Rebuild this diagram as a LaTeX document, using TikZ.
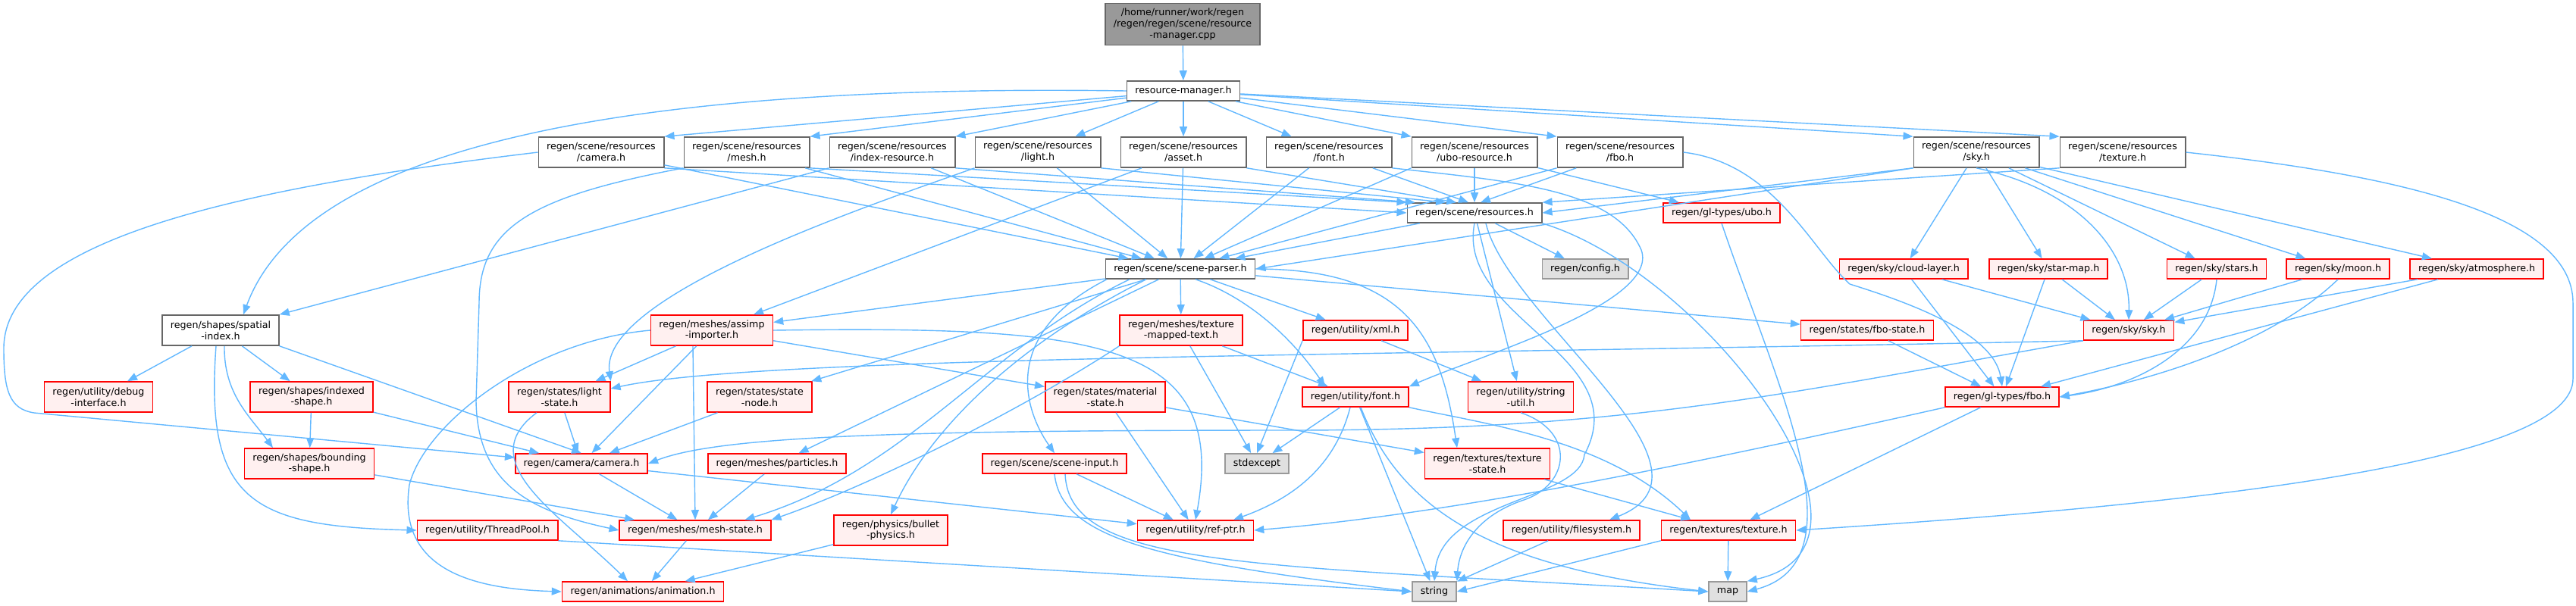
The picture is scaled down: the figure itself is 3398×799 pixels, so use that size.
\documentclass[tikz,border=0pt]{standalone}
\usepackage{fontspec}
\newfontfamily\dotfont{DejaVu Sans}
\usetikzlibrary{arrows.meta, positioning, calc}
\definecolor{edgeblue}{HTML}{63B8FF}
\definecolor{nodeline}{HTML}{666666}
\definecolor{rootfill}{HTML}{999999}
\definecolor{sysfill}{HTML}{E0E0E0}
\definecolor{sysline}{HTML}{999999}
\definecolor{truncfill}{HTML}{FFF0F0}
\tikzset{
    file/.style={rectangle, draw=nodeline, fill=white, line width=0.45pt, align=center, inner xsep=3.1pt, inner ysep=0.5pt, minimum height=0.26cm, font=\dotfont\fontsize{3.6}{4.25}\selectfont},
    twoline/.style={minimum height=0.40cm},
    root/.style={file, fill=rootfill, minimum height=0.55cm},
    trunc/.style={file, draw=red, fill=truncfill},
    sys/.style={file, draw=sysline, fill=sysfill},
    dep/.style={draw=edgeblue, line width=0.4pt, -{Triangle[length=1.3mm, width=1mm]}}
}
\begin{document}
\begin{tikzpicture}[x=0.01cm, y=-0.01cm]
    \useasboundingbox (0,0) rectangle (3398,799);
    % files
    \node[root] (cpp) at (1560,32) {/home/runner/work/regen\\/regen/regen/scene/resource\\-manager.cpp};
    \node[file] (rm) at (1561,120) {resource-manager.h};
    \node[file, twoline] (rcam) at (793,201) {regen/scene/resources\\/camera.h};
    \node[file, twoline] (rmesh) at (985,201) {regen/scene/resources\\/mesh.h};
    \node[file, twoline] (ridx) at (1177,201) {regen/scene/resources\\/index-resource.h};
    \node[file, twoline] (rlight) at (1369,201) {regen/scene/resources\\/light.h};
    \node[file, twoline] (rasset) at (1561,201) {regen/scene/resources\\/asset.h};
    \node[file, twoline] (rfont) at (1753,201) {regen/scene/resources\\/font.h};
    \node[file, twoline] (rubo) at (1945,201) {regen/scene/resources\\/ubo-resource.h};
    \node[file, twoline] (rfbo) at (2137,201) {regen/scene/resources\\/fbo.h};
    \node[file, twoline] (rsky) at (2607,201) {regen/scene/resources\\/sky.h};
    \node[file, twoline] (rtex) at (2800,201) {regen/scene/resources\\/texture.h};
    \node[file] (res) at (1945,281) {regen/scene/resources.h};
    \node[trunc] (ubo) at (2271,281) {regen/gl-types/ubo.h};
    \node[file] (parser) at (1557,355) {regen/scene/scene-parser.h};
    \node[sys] (config) at (2091,355) {regen/config.h};
    \node[trunc] (cloud) at (2511,355) {regen/sky/cloud-layer.h};
    \node[trunc] (starmap) at (2702,355) {regen/sky/star-map.h};
    \node[trunc] (stars) at (2924,355) {regen/sky/stars.h};
    \node[trunc] (moon) at (3084,355) {regen/sky/moon.h};
    \node[trunc] (atmo) at (3267,355) {regen/sky/atmosphere.h};
    \node[file, twoline] (spatial) at (291,436) {regen/shapes/spatial\\-index.h};
    \node[trunc, twoline] (assimp) at (939,436) {regen/meshes/assimp\\-importer.h};
    \node[trunc, twoline] (tmt) at (1558,436) {regen/meshes/texture\\-mapped-text.h};
    \node[trunc] (xml) at (1788,436) {regen/utility/xml.h};
    \node[trunc] (fbostate) at (2463,436) {regen/states/fbo-state.h};
    \node[trunc] (sky) at (2808,436) {regen/sky/sky.h};
    \node[trunc, twoline] (debug) at (130,524) {regen/utility/debug\\-interface.h};
    \node[trunc, twoline] (indexed) at (411,524) {regen/shapes/indexed\\-shape.h};
    \node[trunc, twoline] (lightstate) at (738,524) {regen/states/light\\-state.h};
    \node[trunc, twoline] (statenode) at (1002,524) {regen/states/state\\-node.h};
    \node[trunc, twoline] (material) at (1458,524) {regen/states/material\\-state.h};
    \node[trunc] (font) at (1788,524) {regen/utility/font.h};
    \node[trunc, twoline] (strutil) at (2006,524) {regen/utility/string\\-util.h};
    \node[trunc] (glfbo) at (2641,524) {regen/gl-types/fbo.h};
    \node[trunc, twoline] (bounding) at (408,612) {regen/shapes/bounding\\-shape.h};
    \node[trunc] (camera) at (767,612) {regen/camera/camera.h};
    \node[trunc] (particles) at (1025,612) {regen/meshes/particles.h};
    \node[trunc] (input) at (1391,612) {regen/scene/scene-input.h};
    \node[sys] (stdexcept) at (1658,612) {stdexcept};
    \node[trunc, twoline] (texstate) at (1962,612) {regen/textures/texture\\-state.h};
    \node[trunc] (threadpool) at (643,700) {regen/utility/ThreadPool.h};
    \node[trunc] (meshstate) at (917,700) {regen/meshes/mesh-state.h};
    \node[trunc, twoline] (bullet) at (1175,700) {regen/physics/bullet\\-physics.h};
    \node[trunc] (refptr) at (1577,700) {regen/utility/ref-ptr.h};
    \node[trunc] (filesystem) at (2073,700) {regen/utility/filesystem.h};
    \node[trunc] (texture) at (2280,700) {regen/textures/texture.h};
    \node[trunc] (animation) at (848,781) {regen/animations/animation.h};
    \node[sys] (string) at (1892,781) {string};
    \node[sys] (map) at (2279,781) {map};
    % includes
    \draw[dep] (cpp) -- (rm);
    \draw[dep] (rm) -- (rcam.north east);
    \draw[dep] (rm) -- (rmesh.north east);
    \draw[dep] (rm) -- (ridx.north east);
    \draw[dep] (rm) -- (rlight);
    \draw[dep] (rm) -- (rasset);
    \draw[dep] (rm) -- (rfont);
    \draw[dep] (rm) -- (rubo.north west);
    \draw[dep] (rm) -- (rfbo.north west);
    \draw[dep] (rm) -- (rsky.north west);
    \draw[dep] (rm) -- (rtex.north west);
    \draw[dep] (rm.west) .. controls (800,110) and (400,200) .. ([xshift=0.3cm]spatial.north);
    \draw[dep] (rcam.south east) -- (res.west);
    \draw[dep] (rcam) -- (parser);
    \draw[dep] (rcam.west) .. controls (300,250) and (5,320) .. (5,460) .. controls (5,515) and (12,540) .. (45,545) -- ([yshift=0.08cm]camera.west);
    \draw[dep] (rmesh.south east) -- (res.north west);
    \draw[dep] (rmesh) -- (parser);
    \draw[dep] (rmesh.south west) .. controls (700,260) and (632,300) .. (632,400) -- (628,530) .. controls (630,640) and (700,675) .. (meshstate.west);
    \draw[dep] (ridx.south east) -- (res.170);
    \draw[dep] (ridx) -- (parser);
    \draw[dep] (ridx.south west) -- (spatial.north east);
    \draw[dep] (rlight.south east) -- (res.160);
    \draw[dep] (rlight) -- (parser);
    \draw[dep] (rlight.south west) .. controls (1150,270) and (790,390) .. (lightstate.north east);
    \draw[dep] (rasset.south east) -- (res.150);
    \draw[dep] (rasset) -- (parser);
    \draw[dep] (rasset) -- (assimp);
    \draw[dep] (rfont) -- (res.120);
    \draw[dep] (rfont) -- (parser);
    \draw[dep] (rfont.south east) .. controls (2000,240) and (2130,250) .. (2165,330) .. controls (2190,400) and (1950,470) .. (font.north east);
    \draw[dep] (rubo) -- (res);
    \draw[dep] (rubo.south west) -- (parser);
    \draw[dep] (rubo) -- (ubo);
    \draw[dep] (rfbo) -- (res.60);
    \draw[dep] (rfbo.south west) -- (parser);
    \draw[dep] (rfbo.east) .. controls (2340,215) and (2390,330) .. (2440,375) .. controls (2520,400) and (2630,440) .. (glfbo.north);
    \draw[dep] (rsky.south west) -- (res.east);
    \draw[dep] (rsky.south west) -- (parser.east);
    \draw[dep] (rsky) -- (cloud);
    \draw[dep] (rsky) -- (starmap);
    \draw[dep] (rsky.south) .. controls (2740,250) and (2810,330) .. (sky.north);
    \draw[dep] (rsky) -- (stars);
    \draw[dep] (rsky) -- (moon);
    \draw[dep] (rsky) -- (atmo);
    \draw[dep] (rtex.south west) -- (res.north east);
    \draw[dep] (rtex.east) .. controls (3150,230) and (3394,280) .. (3394,400) -- (3394,500) .. controls (3394,600) and (3000,660) .. (texture.east);
    \draw[dep] (res) -- (parser);
    \draw[dep] (res) -- (config);
    \draw[dep] (res) -- (strutil);
    \draw[dep] ([xshift=0.15cm]res.south) .. controls (1990,420) and (2290,620) .. ([xshift=0.5cm]filesystem.north);
    \draw[dep] (res.south) .. controls (1920,420) and (2160,470) .. (2090,600) .. controls (2085,660) and (1900,660) .. (string.north);
    \draw[dep] (res.south east) .. controls (2250,360) and (2520,720) .. (map.north east);
    \draw[dep] (ubo.south) .. controls (2340,500) and (2460,740) .. (map.east);
    \draw[dep] (parser) -- (assimp);
    \draw[dep] (parser) -- (statenode);
    \draw[dep] (parser) -- (particles);
    \draw[dep] ([xshift=-0.67cm]parser.south) .. controls (1300,460) and (1200,620) .. ([xshift=-0.35cm]meshstate.north east);
    \draw[dep] ([xshift=-0.45cm]parser.south) .. controls (1350,450) and (1230,560) .. (bullet.north);
    \draw[dep] (parser) -- (tmt);
    \draw[dep] ([xshift=-0.97cm]parser.south) .. controls (1320,440) and (1350,540) .. (input.north);
    \draw[dep] (parser) -- (xml);
    \draw[dep] (parser) -- (fbostate);
    \draw[dep] ([xshift=0.2cm]parser.south) .. controls (1640,390) and (1700,440) .. ([xshift=-0.4cm]font.north);
    \draw[dep] (parser.east) .. controls (1850,355) and (1900,440) .. ([xshift=-0.4cm]texstate.north);
    \draw[dep] (spatial) -- (debug);
    \draw[dep] (spatial) -- (indexed);
    \draw[dep] ([xshift=0.05cm]spatial.south) .. controls (295,520) and (330,550) .. ([xshift=-0.48cm]bounding.north);
    \draw[dep] (spatial.south east) -- (camera.north);
    \draw[dep] ([xshift=-0.06cm]spatial.south) .. controls (270,660) and (330,695) .. (threadpool.west);
    \draw[dep] (assimp) -- (lightstate);
    \draw[dep] (assimp) -- (camera);
    \draw[dep] ([xshift=-0.25cm]assimp.south) -- (meshstate.north);
    \draw[dep] (assimp) -- (material);
    \draw[dep] (assimp.west) .. controls (700,450) and (560,560) .. (540,640) .. controls (522,760) and (640,778) .. (animation.west);
    \draw[dep] (assimp.east) .. controls (1450,430) and (1620,450) .. (refptr.north);
    \draw[dep] (tmt.south west) .. controls (1350,540) and (1150,640) .. (meshstate.north east);
    \draw[dep] (tmt) -- (font);
    \draw[dep] (tmt) -- (stdexcept);
    \draw[dep] (xml) -- (strutil);
    \draw[dep] (xml.south west) -- (stdexcept.north);
    \draw[dep] (fbostate) -- (glfbo);
    \draw[dep] (cloud) -- (sky);
    \draw[dep] (cloud) -- (glfbo);
    \draw[dep] (starmap) -- (sky);
    \draw[dep] (starmap) -- (glfbo);
    \draw[dep] (stars) -- (sky);
    \draw[dep] (stars.south) .. controls (2915,460) and (2820,510) .. (glfbo.east);
    \draw[dep] (moon) -- (sky);
    \draw[dep] (moon.south) .. controls (3000,450) and (2850,500) .. (glfbo.east);
    \draw[dep] (atmo) -- (sky);
    \draw[dep] (atmo) -- (glfbo);
    \draw[dep] (sky.south west) .. controls (1800,470) and (1000,470) .. ([yshift=0.11cm]lightstate.east);
    \draw[dep] (sky.south west) .. controls (2350,520) and (2150,568) .. (1700,568) .. controls (1200,568) and (950,575) .. (camera.east);
    \draw[dep] (glfbo.south west) .. controls (2200,620) and (1900,680) .. (refptr.east);
    \draw[dep] (glfbo) -- (texture);
    \draw[dep] (indexed) -- (bounding);
    \draw[dep] (indexed) -- (camera);
    \draw[dep] (lightstate) -- (camera);
    \draw[dep] ([xshift=-0.3cm]lightstate.south) .. controls (620,610) and (740,680) .. ([xshift=-0.2cm]animation.north);
    \draw[dep] (statenode) -- (camera);
    \draw[dep] (material) -- (refptr);
    \draw[dep] (material) -- (texstate);
    \draw[dep] (font) -- (stdexcept);
    \draw[dep] ([xshift=-0.07cm]font.south) .. controls (1760,620) and (1700,660) .. ([xshift=0.5cm]refptr.north);
    \draw[dep] (font) -- (string);
    \draw[dep] ([xshift=0.07cm]font.south) .. controls (1850,680) and (1980,750) .. (map.west);
    \draw[dep] (font.south east) .. controls (1960,560) and (2120,580) .. ([xshift=-0.5cm]texture.north);
    \draw[dep] (strutil.south) .. controls (2080,570) and (2070,640) .. (2010,660) .. controls (1950,680) and (1925,720) .. (string.north east);
    \draw[dep] (bounding) -- (meshstate);
    \draw[dep] (camera) -- (meshstate);
    \draw[dep] (camera) -- (refptr);
    \draw[dep] (particles) -- (meshstate);
    \draw[dep] (input) -- (refptr);
    \draw[dep] (input.south) .. controls (1400,710) and (1520,740) .. (string.west);
    \draw[dep] ([xshift=0.14cm]input.south) .. controls (1410,750) and (1650,745) .. (map.west);
    \draw[dep] (texstate) -- (texture);
    \draw[dep] (threadpool.south east) -- (string.west);
    \draw[dep] (meshstate) -- (animation);
    \draw[dep] (bullet) -- (animation);
    \draw[dep] (filesystem) -- (string);
    \draw[dep] (texture.south west) -- (string.east);
    \draw[dep] (texture) -- (map);
\end{tikzpicture}
\end{document}
